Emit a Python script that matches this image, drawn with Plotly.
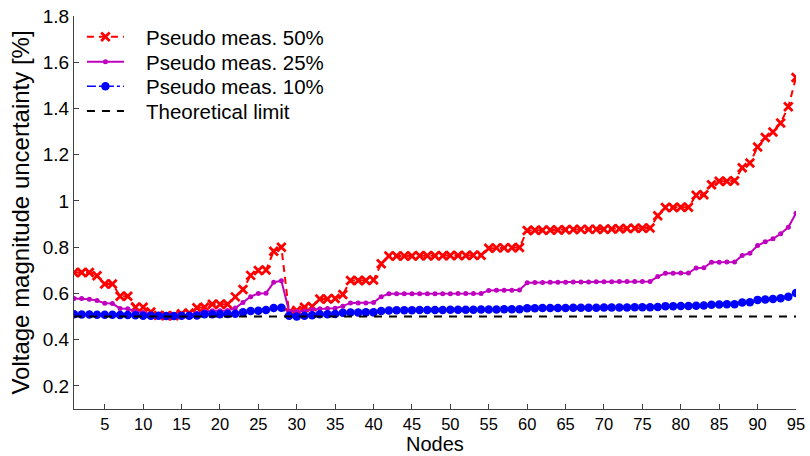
import plotly.graph_objects as go

nodes = list(range(1, 96))

pseudo_50 = [0.690,0.690,0.690,0.676,0.641,0.641,0.588,0.588,0.540,0.540,
             0.520,0.505,0.503,0.503,0.512,0.515,0.538,0.540,0.553,0.553,
             0.553,0.585,0.617,0.678,0.699,0.701,0.782,0.800,0.518,0.526,
             0.540,0.543,0.576,0.576,0.578,0.595,0.656,0.656,0.656,0.658,
             0.728,0.762,0.762,0.762,0.762,0.763,0.763,0.763,0.763,0.764,
             0.764,0.764,0.765,0.765,0.795,0.797,0.797,0.798,0.799,0.872,
             0.873,0.873,0.874,0.874,0.875,0.876,0.877,0.877,0.878,0.878,
             0.879,0.880,0.881,0.882,0.882,0.883,0.936,0.972,0.972,0.973,
             0.973,1.025,1.027,1.070,1.085,1.085,1.087,1.144,1.164,1.233,
             1.274,1.298,1.337,1.407,1.534]

pseudo_25 = [0.578,0.578,0.575,0.569,0.557,0.556,0.535,0.534,0.522,0.517,
             0.510,0.506,0.505,0.505,0.507,0.508,0.513,0.522,0.525,0.525,
             0.526,0.537,0.561,0.586,0.600,0.601,0.648,0.655,0.523,0.522,
             0.524,0.530,0.534,0.535,0.536,0.545,0.559,0.559,0.559,0.561,
             0.586,0.598,0.598,0.598,0.598,0.599,0.599,0.599,0.599,0.599,
             0.600,0.600,0.600,0.600,0.613,0.614,0.614,0.614,0.615,0.646,
             0.647,0.647,0.648,0.648,0.648,0.649,0.649,0.649,0.650,0.650,
             0.650,0.651,0.651,0.651,0.652,0.652,0.673,0.687,0.687,0.688,
             0.688,0.710,0.711,0.735,0.735,0.736,0.736,0.764,0.774,0.807,
             0.824,0.836,0.858,0.886,0.947]

pseudo_10 = [0.510,0.509,0.509,0.508,0.508,0.508,0.507,0.507,0.506,0.503,
             0.503,0.503,0.502,0.502,0.503,0.503,0.504,0.510,0.510,0.510,
             0.511,0.512,0.518,0.524,0.525,0.528,0.537,0.538,0.503,0.500,
             0.503,0.506,0.510,0.510,0.511,0.516,0.517,0.517,0.518,0.518,
             0.524,0.526,0.527,0.527,0.527,0.528,0.528,0.528,0.528,0.529,
             0.529,0.529,0.529,0.530,0.530,0.530,0.531,0.531,0.531,0.536,
             0.536,0.537,0.537,0.537,0.537,0.538,0.538,0.538,0.538,0.539,
             0.539,0.539,0.539,0.540,0.540,0.540,0.541,0.545,0.545,0.546,
             0.546,0.547,0.548,0.551,0.552,0.553,0.553,0.561,0.562,0.572,
             0.574,0.576,0.579,0.586,0.602]

theoretical_limit = 0.5

series_names = ["Pseudo meas. 50%", "Pseudo meas. 25%",
                "Pseudo meas. 10%", "Theoretical limit"]

x_ticks = list(range(5, 96, 5))
y_ticks = [0.2, 0.4, 0.6, 0.8, 1.0, 1.2, 1.4, 1.6, 1.8]
y_ticktext = ["0.2", "0.4", "0.6", "0.8", "1", "1.2", "1.4", "1.6", "1.8"]

FONT = "Liberation Sans, Arial, Helvetica, sans-serif"
PAD = "\u00a0\u00a0\u00a0"

fig = go.Figure()
fig.add_trace(go.Scatter(
    x=nodes, y=pseudo_50, name=PAD + series_names[0], mode="lines+markers",
    line=dict(color="#FF0000", width=2, dash="7px,5px"),
    marker=dict(symbol="x-thin", size=8.5, color="#FF0000",
                line=dict(color="#FF0000", width=2.8)),
    legend="legend",
))
fig.add_trace(go.Scatter(
    x=nodes, y=pseudo_25, name=PAD + series_names[1], mode="lines+markers",
    line=dict(color="#BF00BF", width=2),
    marker=dict(symbol="circle", size=5, color="#BF00BF"),
    legend="legend2",
))
fig.add_trace(go.Scatter(
    x=nodes, y=pseudo_10, name=PAD + series_names[2], mode="lines+markers",
    line=dict(color="#0000FF", width=1.5, dash="dashdot"),
    marker=dict(symbol="circle", size=8.5, color="#0000FF"),
    legend="legend3",
))
fig.add_trace(go.Scatter(
    x=[nodes[0], nodes[-1]], y=[theoretical_limit, theoretical_limit],
    name=PAD + series_names[3], mode="lines",
    line=dict(color="#000000", width=2, dash="8px,7px"),
    legend="legend4",
))

axis_common = dict(
    showline=True, linecolor="#404040", linewidth=1,
    ticks="inside", ticklen=5, tickcolor="#404040", tickwidth=1,
    showgrid=False, zeroline=False, mirror=False, automargin=False,
)

fig.update_xaxes(range=[1, 95], tickvals=x_ticks,
                 tickfont=dict(family=FONT, size=16.5, color="#000000"),
                 **axis_common)
fig.update_yaxes(
    range=[0.1, 1.8], tickvals=y_ticks, ticktext=y_ticktext,
    tickfont=dict(family=FONT, size=19, color="#000000"),
    title_text="Voltage magnitude uncertainty [%]", title_standoff=6,
    title_font=dict(family=FONT, size=24, color="#000000"),
    **axis_common,
)

fig.add_annotation(
    text="Nodes", xref="paper", yref="paper", x=0.5, y=-0.0885,
    xanchor="center", yanchor="middle", showarrow=False, borderpad=0,
    font=dict(family=FONT, size=20, color="#000000"),
)

legend_common = dict(
    x=0.011, xanchor="left", yanchor="middle",
    bgcolor="rgba(255,255,255,0)", borderwidth=0,
    font=dict(family=FONT, size=20.5, color="#000000"),
    itemwidth=37,
)
fig.update_layout(
    width=810, height=456,
    margin=dict(l=74, r=14, t=16, b=47),
    paper_bgcolor="white", plot_bgcolor="white",
    font=dict(family=FONT, size=19, color="#000000"),
    showlegend=True,
    legend=dict(y=0.9466, **legend_common),
    legend2=dict(y=0.883, **legend_common),
    legend3=dict(y=0.8206, **legend_common),
    legend4=dict(y=0.758, **legend_common),
)

fig.write_html("out.html")
